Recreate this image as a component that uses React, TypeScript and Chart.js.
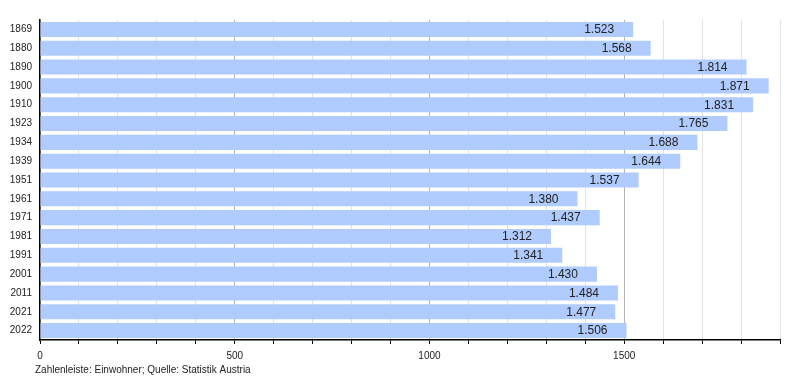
import React, { useEffect, useRef } from "react";
import { Chart, registerables } from "chart.js";

Chart.register(...registerables);

const years = ["1869","1880","1890","1900","1910","1923","1934","1939","1951","1961","1971","1981","1991","2001","2011","2021","2022"];
const population = [1523,1568,1814,1871,1831,1765,1688,1644,1537,1380,1437,1312,1341,1430,1484,1477,1506];
const footerText = "Zahlenleiste: Einwohner; Quelle: Statistik Austria";

const FONT = "'Liberation Sans', Arial, sans-serif";

function fmt(v: number): string {
  const th = Math.floor(v / 1000);
  const rest = String(v % 1000).padStart(3, "0");
  return th > 0 ? `${th}.${rest}` : String(v);
}

const labelPlugin = {
  id: "valueLabels",
  afterDatasetsDraw(chart: any) {
    const ctx = chart.ctx;
    const meta = chart.getDatasetMeta(0);
    ctx.save();
    ctx.font = `12px ${FONT}`;
    ctx.fillStyle = "#222";
    ctx.textAlign = "right";
    ctx.textBaseline = "middle";
    meta.data.forEach((bar: any, i: number) => {
      ctx.fillText(fmt(population[i]), bar.x - 19, bar.y + 0.5);
    });
    ctx.restore();
  },
};

const footerPlugin = {
  id: "footerText",
  afterDraw(chart: any) {
    const ctx = chart.ctx;
    ctx.save();
    ctx.font = `10px ${FONT}`;
    ctx.fillStyle = "#222";
    ctx.textAlign = "left";
    ctx.textBaseline = "middle";
    ctx.fillText(footerText, 35, 370);
    ctx.restore();
  },
};

export default function App() {
  const ref = useRef<HTMLCanvasElement | null>(null);
  useEffect(() => {
    document.body.style.margin = "0";
    if (!ref.current) return;
    const chart = new Chart(ref.current, {
      type: "bar",
      data: {
        labels: years,
        datasets: [
          {
            data: population,
            backgroundColor: "#b0cbfd",
            borderWidth: 0,
            categoryPercentage: 0.8,
            barPercentage: 1,
          },
        ],
      },
      options: {
        indexAxis: "y",
        responsive: false,
        animation: false,
        layout: { padding: { left: 0, top: 20, right: 20, bottom: 20 } },
        plugins: {
          legend: { display: false },
          tooltip: { enabled: false },
        },
        scales: {
          x: {
            min: 0,
            max: 1900,
            ticks: {
              stepSize: 100,
              autoSkip: false,
              maxRotation: 0,
              padding: 6,
              color: "#222",
              font: { family: FONT, size: 10 },
              callback: (v: any) => (Number(v) % 500 === 0 ? String(v) : ""),
            },
            grid: {
              color: (c: any) => (c.tick && c.tick.value % 500 === 0 ? "#b4b4b4" : "#e2e2e2"),
              tickColor: "#000",
              tickLength: 4,
              lineWidth: 1,
            },
            border: { color: "#000", width: 1.5 },
            afterFit: (s: any) => {
              s.height = 20;
            },
          },
          y: {
            ticks: {
              padding: 8,
              color: "#222",
              font: { family: FONT, size: 10 },
            },
            grid: { display: false, drawTicks: false },
            border: { display: true, color: "#000", width: 1.5 },
            afterFit: (s: any) => {
              s.width = 40;
            },
          },
        },
      },
      plugins: [labelPlugin, footerPlugin],
    } as any);
    return () => chart.destroy();
  }, []);
  return <canvas ref={ref} width={800} height={380} style={{ display: "block" }} />;
}
